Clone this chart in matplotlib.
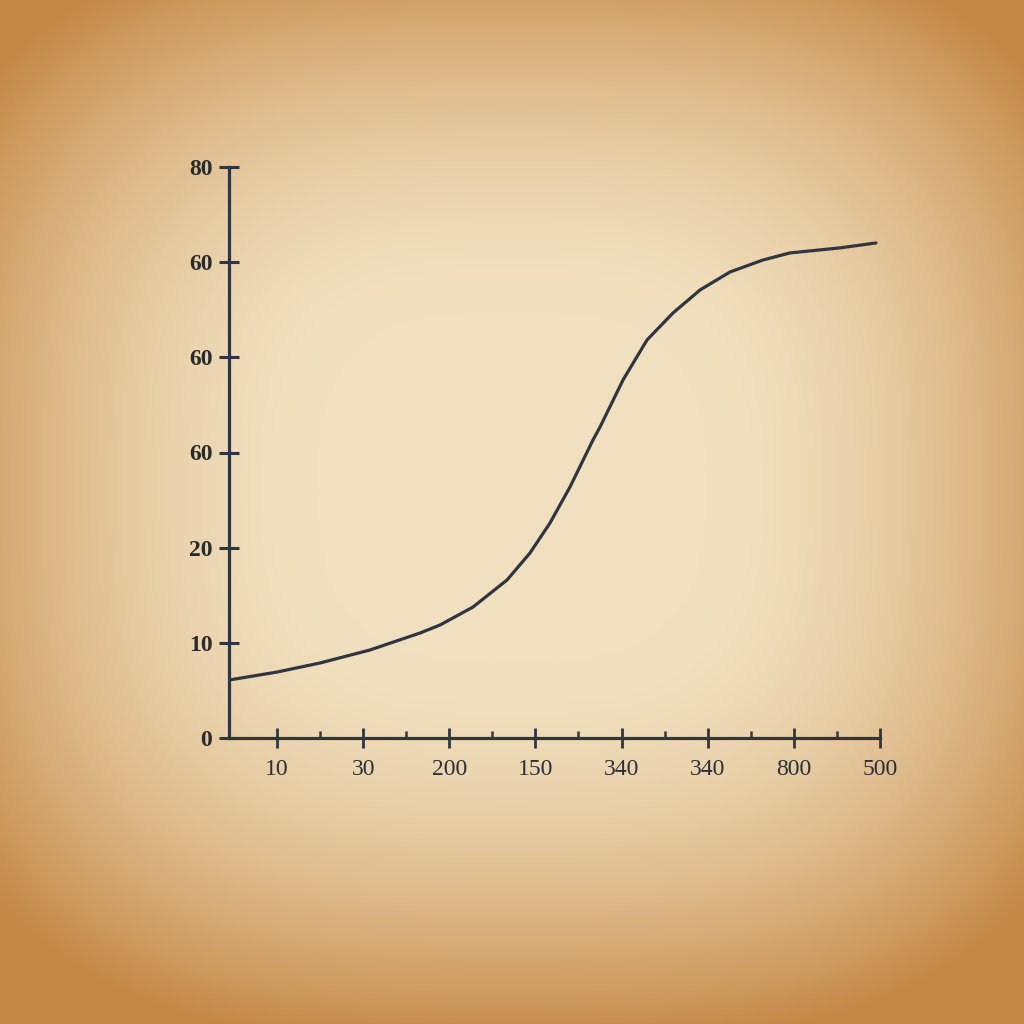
import numpy as np
import matplotlib.pyplot as plt
from matplotlib.ticker import FixedLocator

# tick labels as printed on the chart (positions are evenly spaced)
ytick_labels = ['0', '10', '20', '60', '60', '60', '80']
xtick_labels = ['10', '30', '200', '150', '340', '340', '800', '500']

# curve in tick-slot units
curve_x = [-0.557, 0.000, 0.499, 1.080, 1.660, 1.892, 2.275, 2.670, 2.937,
           3.169, 3.401, 3.668, 3.750, 4.017, 4.295, 4.597, 4.911, 5.259,
           5.642, 5.955, 6.536, 6.954]
curve_y = [0.609, 0.693, 0.788, 0.925, 1.103, 1.187, 1.376, 1.660, 1.944,
           2.259, 2.637, 3.131, 3.268, 3.762, 4.182, 4.466, 4.708, 4.897,
           5.023, 5.097, 5.150, 5.202]

ink = '#2f3640'

fig = plt.figure(figsize=(10.24, 10.24), dpi=100)

# parchment background with a warm vignette
bg = fig.add_axes([0, 0, 1, 1], zorder=-10)
n = 400
gx, gy = np.meshgrid(np.linspace(-1, 1, n), np.linspace(-1, 1, n))
r = (np.abs(gx)**3 + np.abs(1.1 * (gy - 0.05))**3)**(1/3)
t = np.clip((r - 0.38) / 0.82, 0, 1)**1.7
c_in = np.array([241, 224, 191]) / 255.0
c_out = np.array([196, 136, 70]) / 255.0
img = c_in[None, None, :] * (1 - t[..., None]) + c_out[None, None, :] * t[..., None]
bg.imshow(img, extent=[0, 1, 0, 1], aspect='auto', origin='lower')
bg.axis('off')

ax = fig.add_axes([229/1024, 1 - 738/1024, (880 - 229)/1024, (738 - 167)/1024])
ax.patch.set_alpha(0)

ax.plot(curve_x, curve_y, color=ink, lw=2.3, solid_capstyle='round',
        solid_joinstyle='round')

ax.set_xlim(-0.557, 7)
ax.set_ylim(0, 6)

for s in ['top', 'right']:
    ax.spines[s].set_visible(False)
for s in ['left', 'bottom']:
    ax.spines[s].set_color(ink)
    ax.spines[s].set_linewidth(2.3)

ax.set_yticks(range(len(ytick_labels)))
ax.set_yticklabels(ytick_labels)
ax.set_xticks(range(len(xtick_labels)))
ax.set_xticklabels(xtick_labels)
ax.xaxis.set_minor_locator(FixedLocator(np.arange(0.5, 7, 1.0)))

ax.tick_params(axis='y', direction='inout', length=14, width=2.2, color=ink,
               pad=5, labelsize=17, labelcolor='#2a2a2a')
ax.tick_params(axis='x', which='major', direction='inout', length=14, width=2.0,
               color=ink, pad=8, labelsize=17, labelcolor='#2a2f38')
ax.tick_params(axis='x', which='minor', direction='in', length=5, width=1.8,
               color=ink)

for lab in ax.get_yticklabels():
    lab.set_family('Liberation Serif')
    lab.set_fontweight('bold')
for lab in ax.get_xticklabels():
    lab.set_family('Liberation Serif')

fig.savefig('out.png', dpi=100)
